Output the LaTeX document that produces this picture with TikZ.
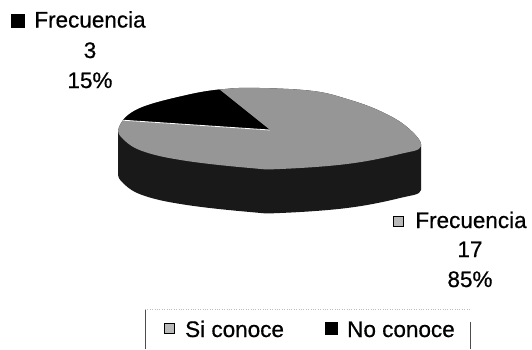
\documentclass[tikz,border=0pt]{standalone}
\usepackage{fontspec}
\setmainfont{Liberation Sans}
\newfontfamily\lblfont{Liberation Sans}[FakeBold=0.6]
\begin{document}
\begin{tikzpicture}[x=1pt,y=-1pt,
  lbl/.style={font=\lblfont\fontsize{22.5}{26}\selectfont, inner sep=0pt, anchor=base},
  lblw/.style={font=\lblfont\fontsize{22.5}{26}\selectfont, inner sep=0pt, anchor=base west},
  darkmark/.style={draw=black, fill=black, minimum size=#1, inner sep=0pt},
  lightmark/.style={draw=black, line width=1pt, fill=gray!55, minimum size=#1, inner sep=0pt},
  sidecol/.style={fill=black!90},
  lightslice/.style={fill={rgb,255:red,150;green,150;blue,150}},
  darkslice/.style={fill=black},
  legside/.style={draw=black!70, line width=0.7pt}]
\useasboundingbox (0,0) rectangle (532,349);
\def\topface{plot[smooth cycle, tension=0.65] coordinates {(260,88) (313,91) (347,99) (380,111) (407,127) (421,146) (400,154) (347,164) (280,169) (250,168) (187,161) (145,152) (124,140) (119,127) (138,109) (187,95) (225,89)}}
% side (extrusion)
\foreach \s in {0,2,...,44}{
  \fill[sidecol, yshift=-\s pt] \topface;
}
% top face
\fill[lightslice] \topface;
\coordinate (pc) at (270,130);
\begin{scope}
  \clip \topface;
  \fill[darkslice] (pc) -- (210,82) -- (150,70) -- (90,80) -- (90,118) -- cycle;
  \draw[white, line width=0.8pt] (pc) -- (90,118);
\end{scope}
% top-left label
\node[darkmark=13pt] (m1) at (18,20.5) {};
\node[lbl] (f1) at (90,27.5) {Frecuencia};
\node[lbl] (n1) at (90,58) {3};
\node[lbl] (p1) at (90,88) {15\%};
% bottom-right label
\node[lightmark=10pt] (m2) at (398,221) {};
\node[lbl] (f2) at (471,228) {Frecuencia};
\node[lbl] (n2) at (470,257) {17};
\node[lbl] (p2) at (470,287) {85\%};
% legend
\draw[legside] (145,349) -- (145,309);
\draw[legside] (470,322) -- (470,349);
\draw[gray!50, dotted] (145,309) -- (470,309);
\node[lightmark=10pt] (lm1) at (169,328) {};
\node[lblw] (lt1) at (185,337) {Si conoce};
\node[darkmark=12pt] (lm2) at (331,328.5) {};
\node[lblw] (lt2) at (347,337) {No conoce};
\end{tikzpicture}
\end{document}
